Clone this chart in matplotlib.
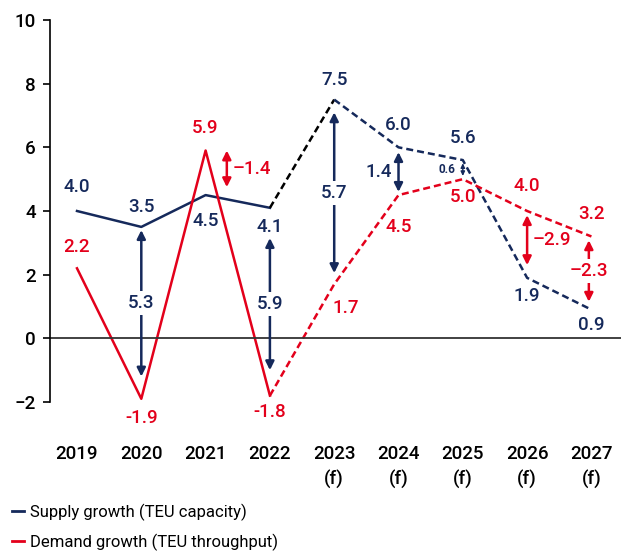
import matplotlib.pyplot as plt
from matplotlib.lines import Line2D

plt.rcParams['font.family'] = ['Roboto', 'DejaVu Sans']

# data
years = ['2019', '2020', '2021', '2022', '2023\n(f)', '2024\n(f)', '2025\n(f)', '2026\n(f)', '2027\n(f)']
supply = [4.0, 3.5, 4.5, 4.1, 7.5, 6.0, 5.6, 1.9, 0.9]
demand = [2.2, -1.9, 5.9, -1.8, 1.7, 4.5, 5.0, 4.0, 3.2]
gap_text = ['5.3', '5.9', '5.7', '1.4', '0.6', '–1.4', '–2.9', '–2.3']
n_hist = 4  # 2019-2022 are actuals

navy = '#15295b'
red = '#e3001b'
dash = (0, (2.8, 1.6))

fig = plt.figure(figsize=(6.21, 5.56), dpi=100)
ax = fig.add_axes([0.0805, 0.277, 0.9195, 0.687])

x = list(range(len(years)))
h = n_hist - 1
ax.plot(x[:n_hist], supply[:n_hist], color=navy, lw=1.8)
ax.plot(x[h:h + 2], supply[h:h + 2], color='black', lw=1.8, ls=dash)
ax.plot(x[h + 1:], supply[h + 1:], color=navy, lw=1.8, ls=dash)
ax.plot(x[:n_hist], demand[:n_hist], color=red, lw=1.8)
ax.plot(x[h:], demand[h:], color=red, lw=1.8, ls=dash)

ax.axhline(0, color='#333333', lw=1.3)

# value labels (offsets in points)
s_off = [17, 14, -19, -14, 14, 16, 16, -13, -11]
d_off = [15, -14, 16, -12, -17, -23, -13, 18, 16]
fs = 13.5
for i in x:
    ax.annotate(f'{supply[i]:.1f}', (i, supply[i]), xytext=(0, s_off[i]), textcoords='offset points',
                ha='center', va='center', color=navy, fontsize=fs, fontweight='medium')
    dx = 8 if i == 4 else 0
    ax.annotate(f'{demand[i]:.1f}', (i, demand[i]), xytext=(dx, d_off[i]), textcoords='offset points',
                ha='center', va='center', color=red, fontsize=fs, fontweight='medium')

# gap arrows: (x, top, bottom, colour, text index, text placement)
arrows = [
    (1, 3.4, -1.2, navy, 0, 'mid'),
    (3, 3.15, -1.0, navy, 1, 'mid'),
    (4, 7.1, 2.05, navy, 2, 'mid'),
    (5, 5.85, 4.6, navy, 3, 'left'),
    (6, 5.5, 5.1, navy, 4, 'left'),
    (2.33, 5.9, 4.75, red, 5, 'right'),
    (7, 3.87, 2.3, red, 6, 'right'),
    (7.96, 3.08, 1.15, red, 7, 'mid'),
]
for ax_x, top, bot, col, k, place in arrows:
    small = k == 4
    ax.annotate('', xy=(ax_x, top), xytext=(ax_x, bot),
                arrowprops=dict(arrowstyle='<|-|>,head_length=0.5,head_width=0.25' if not small
                                else '<|-|>,head_length=0.25,head_width=0.12',
                                color=col, lw=1.0 if small else 1.8, shrinkA=0, shrinkB=0))
    mid = (top + bot) / 2
    if place == 'mid':
        ax.text(ax_x, mid, gap_text[k], ha='center', va='center', color=col, fontsize=fs,
                fontweight='medium', bbox=dict(facecolor='white', edgecolor='none', pad=2))
    elif place == 'left':
        ax.annotate(gap_text[k], (ax_x, mid), xytext=(-5, 0), textcoords='offset points',
                    ha='right', va='center', color=col,
                    fontsize=8.5 if small else fs, fontweight='bold' if small else 'medium')
    else:
        ax.annotate(gap_text[k], (ax_x, mid), xytext=(4, 0), textcoords='offset points',
                    ha='left', va='center', color=col, fontsize=fs, fontweight='medium')

ax.set_xlim(-0.42, 8.46)
ax.set_ylim(-2, 10)
ax.set_yticks([-2, 0, 2, 4, 6, 8, 10])
ax.set_xticks(x, years)
for lab in ax.get_xticklabels():
    lab.set_linespacing(1.45)
ax.tick_params(axis='x', length=0, pad=31, labelsize=fs)
ax.tick_params(axis='y', length=5, width=1.2, pad=5, labelsize=fs)
for lab in ax.get_xticklabels() + ax.get_yticklabels():
    lab.set_fontweight('medium')
for s in ['top', 'right', 'bottom']:
    ax.spines[s].set_visible(False)
ax.spines['left'].set_linewidth(1.2)

handles = [Line2D([], [], color=navy, lw=2), Line2D([], [], color=red, lw=2)]
fig.legend(handles, ['Supply growth (TEU capacity)', 'Demand growth (TEU throughput)'],
           loc='upper left', bbox_to_anchor=(0.02, 0.094), frameon=False, fontsize=12,
           handlelength=0.7, handletextpad=0.35, labelspacing=0.75, borderpad=0, borderaxespad=0)

fig.savefig('out.png', dpi=100)
